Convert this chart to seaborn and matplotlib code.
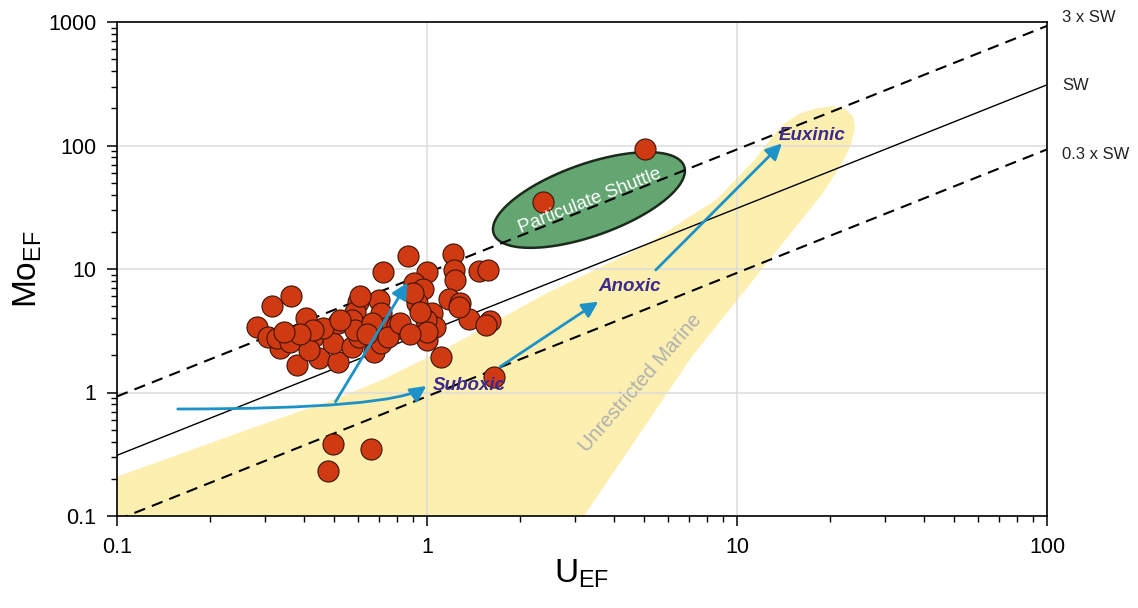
import numpy as np
import pandas as pd
import matplotlib
matplotlib.use("Agg")
import matplotlib.pyplot as plt
import seaborn as sns

# ---------------- data ----------------
u_ef = [5.06, 2.37, 1.64, 0.497, 0.66, 0.479, 0.871, 1.21, 0.72, 1.003,
        1.22, 1.23, 1.47, 1.57, 0.91, 0.97, 0.364, 0.317, 0.70, 0.60,
        0.93, 1.18, 1.28, 0.408, 0.585, 1.04, 0.71, 1.37, 1.60, 1.55,
        0.282, 1.06, 0.75, 0.80, 0.82, 1.003, 1.11, 0.675, 0.38, 0.447,
        0.515, 0.335, 0.306, 0.328, 0.362, 0.43, 0.497, 0.415, 0.575, 0.605,
        0.515, 0.462, 0.43, 0.575, 0.585, 0.664, 0.39, 0.346, 0.99, 0.71,
        0.75, 0.82, 0.525, 0.90, 0.95, 1.27, 1.0, 0.61, 0.88, 0.64]
mo_ef = [93, 35, 1.33, 0.383, 0.349, 0.231, 12.8, 13.2, 9.5, 9.5,
         9.8, 8.1, 9.63, 9.8, 7.75, 6.85, 6.05, 5.0, 5.6, 5.43,
         5.27, 5.68, 5.27, 4.03, 4.5, 4.42, 4.42, 3.91, 3.79, 3.52,
         3.37, 3.37, 3.41, 3.52, 3.31, 2.66, 1.95, 2.14, 1.67, 1.89,
         1.78, 2.28, 2.83, 2.75, 2.58, 2.83, 2.5, 2.21, 2.35, 2.83,
         3.63, 3.31, 3.2, 3.86, 3.2, 3.63, 3.0, 3.1, 3.86, 2.5,
         2.83, 3.63, 3.86, 6.36, 4.5, 4.95, 3.1, 6.0, 3.0, 3.0]

# seawater Mo/U ratio multiples
sw_ratio = 3.1
sw_factors = [3.0, 1.0, 0.3]
sw_labels = ["3 x SW", "SW", "0.3 x SW"]

# unrestricted marine field outline (U_EF, Mo_EF)
marine_u = [0.1, 0.28, 0.497, 0.713, 1.18, 2.43, 4.98, 8.55, 11.4, 13.0,
            14.2, 15.8, 18.0, 20.3, 22.3, 23.7, 24.0, 23.3, 21.8, 18.9,
            7.15, 3.12, 0.1]
marine_mo = [0.208, 0.528, 0.87, 1.26, 2.35, 6.36, 15.2, 36.2, 76.3, 118,
             150, 180, 200, 208, 198, 172, 140, 100, 71.8, 41,
             1.95, 0.09, 0.09]

x_ticks = [0.1, 1, 10, 100]
x_ticklabels = ["0.1", "1", "10", "100"]
y_ticks = [0.1, 1, 10, 100, 1000]
y_ticklabels = ["0.1", "1", "10", "100", "1000"]

# ---------------- style ----------------
sns.set_theme(style="white")
plt.rcParams["font.family"] = ["Liberation Sans", "DejaVu Sans"]
plt.rcParams["mathtext.default"] = "regular"

fig = plt.figure(figsize=(11.38, 6.08), dpi=100)
ax = fig.add_axes([117 / 1138, 1 - 516 / 608, 930 / 1138, 494 / 608])
ax.set_xscale("log")
ax.set_yscale("log")
ax.set_xlim(0.1, 100)
ax.set_ylim(0.1, 1000)

# grid
ax.set_axisbelow(True)
ax.grid(True, which="major", color="#dcdcdc", lw=1.1)

# unrestricted marine field
ax.fill(marine_u, marine_mo, color="#fcefb0", lw=0, zorder=0.3)

# particulate shuttle ellipse (in log space, pixel scale per decade)
t = np.linspace(0, 2 * np.pi, 300)
a_px, b_px, th = 101, 36, np.deg2rad(19.5)
px = a_px * np.cos(t) * np.cos(th) - b_px * np.sin(t) * np.sin(th)
py = a_px * np.cos(t) * np.sin(th) + b_px * np.sin(t) * np.cos(th)
ex = 3.33 * 10 ** (px / 310.0)
ey = 36.2 * 10 ** (py / 123.5)
ax.fill(ex, ey, facecolor="#63a672", edgecolor="#1b2a1b", lw=1.8, zorder=2)

# seawater lines
xs = np.array([0.1, 100])
styles = [(0, (5.5, 3.5)), "-", (0, (5.5, 3.5))]
widths = [1.5, 1.0, 1.5]
for f, ls, lw in zip(sw_factors, styles, widths):
    line_df = pd.DataFrame({"U": xs, "Mo": xs * sw_ratio * f})
    sns.lineplot(data=line_df, x="U", y="Mo", ax=ax, color="black",
                 lw=lw, linestyle=ls, zorder=3)

# data points
pts = pd.DataFrame({"U": u_ef, "Mo": mo_ef})
sns.scatterplot(data=pts, x="U", y="Mo", ax=ax, s=230, color="#d03a12",
                edgecolor="#3a1408", linewidth=0.8, zorder=4, legend=False)

# arrows
blue = "#1d92c8"
aprops = dict(arrowstyle="-|>", color=blue, lw=2.0, mutation_scale=24,
              shrinkA=0, shrinkB=0)
ax.annotate("", xy=(0.995, 1.13), xytext=(0.157, 0.735),
            arrowprops=dict(aprops, connectionstyle="angle3,angleA=0,angleB=35"),
            zorder=5)
ax.annotate("", xy=(0.866, 7.75), xytext=(0.507, 0.842), arrowprops=aprops, zorder=5)
ax.annotate("", xy=(3.57, 5.44), xytext=(1.723, 1.62), arrowprops=aprops, zorder=5)
ax.annotate("", xy=(13.96, 104), xytext=(5.47, 9.82), arrowprops=aprops, zorder=5)

# region labels
purple = "#3b2a8f"
for txt, xy in [("Suboxic", (1.04, 1.13)), ("Anoxic", (3.56, 7.15)),
                ("Euxinic", (13.66, 121.6))]:
    ax.text(xy[0], xy[1], txt, color=purple, fontsize=13.5, fontweight="bold",
            fontstyle="italic", ha="left", va="center", zorder=6)
ax.text(3.36, 35.7, "Particulate Shuttle", color="white", fontsize=13.5,
        rotation=21.5, rotation_mode="anchor", ha="center", va="center", zorder=6)
ax.text(4.9, 1.2, "Unrestricted Marine", color="#b0b0b0", fontsize=14.5,
        rotation=49, rotation_mode="anchor", ha="center", va="center", zorder=1)

# SW labels at right
for lab, ypx in zip(sw_labels, [18, 86, 155]):
    fig.text(1062 / 1138, 1 - ypx / 608, lab, fontsize=12, color="#222222",
             ha="left", va="center")

# axes
ax.set_xticks(x_ticks)
ax.set_xticklabels(x_ticklabels)
ax.set_yticks(y_ticks)
ax.set_yticklabels(y_ticklabels)
ax.xaxis.set_minor_locator(matplotlib.ticker.LogLocator(base=10, subs=np.arange(2, 10)))
ax.yaxis.set_minor_locator(matplotlib.ticker.LogLocator(base=10, subs=np.arange(2, 10)))
ax.xaxis.set_minor_formatter(matplotlib.ticker.NullFormatter())
ax.yaxis.set_minor_formatter(matplotlib.ticker.NullFormatter())
ax.tick_params(which="major", direction="out", length=7, width=1.1, color="black",
               labelsize=15.5, labelcolor="black", bottom=True, left=True, pad=8)
ax.tick_params(which="minor", direction="out", length=4, width=1.0, color="black",
               bottom=True, left=True)
for sp in ax.spines.values():
    sp.set_color("black")
    sp.set_linewidth(1.2)

ax.set_xlabel("U$_{EF}$", fontsize=24, color="black")
ax.set_ylabel("Mo$_{EF}$", fontsize=24, color="black")
ax.xaxis.set_label_coords(0.5, -0.085)
ax.yaxis.set_label_coords(-0.078, 0.5)

fig.savefig("out.png", dpi=100)
